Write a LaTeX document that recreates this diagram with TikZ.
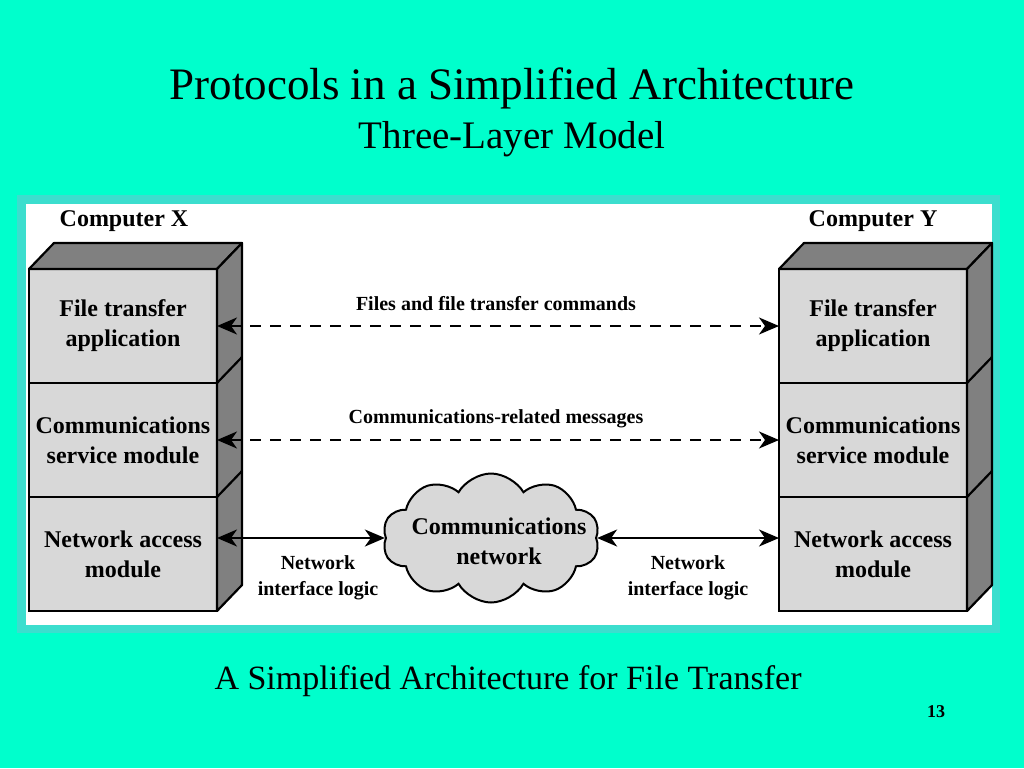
\documentclass[tikz,border=0pt]{standalone}
\usepackage{fontspec}
\setmainfont{Liberation Serif}
\usetikzlibrary{arrows.meta,shapes.symbols}
\definecolor{bgC}{RGB}{0,255,204}
\definecolor{frameC}{RGB}{60,222,206}
\definecolor{faceC}{RGB}{216,216,216}
\definecolor{darkC}{RGB}{128,128,128}
\begin{document}
\begin{tikzpicture}[x=1pt,y=-1pt,
  layer/.style={draw=black, line width=2.2pt, fill=faceC, minimum width=188pt,
    minimum height=114pt, inner sep=0pt, outer sep=0pt, align=center,
    font=\fontsize{24}{30}\selectfont\bfseries},
  face/.style={draw=black, line width=2.2pt, fill=darkC, line join=round},
  edge/.style={draw=black, line width=2.2pt},
  big/.style={font=\fontsize{24}{30}\selectfont\bfseries, align=center, inner sep=0pt},
  small/.style={font=\fontsize{20}{26}\selectfont\bfseries, align=center, inner sep=0pt},
  link/.style={line width=2pt, {Stealth[length=20pt,width=17pt,inset=6pt]}-{Stealth[length=20pt,width=17pt,inset=6pt]}},
  dlink/.style={link, dash pattern=on 11pt off 9pt}
]
\useasboundingbox (0,0) rectangle (1024,768);
\fill[bgC] (0,0) rectangle (1024,768);
% frame
\fill[frameC] (17,195) rectangle (1000,633);
\fill[white] (26,204) rectangle (992,625);

% titles
\node[anchor=base, inner sep=0pt, font=\fontsize{45}{54}\selectfont] (title) at (512,99)
  {Protocols in a Simplified Architecture};
\node[anchor=base, inner sep=0pt, font=\fontsize{39}{46}\selectfont] (subtitle) at (512,148)
  {Three-Layer Model};
\node[anchor=base, inner sep=0pt, font=\fontsize{34}{40}\selectfont] (caption) at (508,689)
  {A Simplified Architecture for File Transfer};
\node[anchor=base, inner sep=0pt, font=\fontsize{18}{22}\selectfont\bfseries] (pagenum) at (936,717) {13};

% computer labels
\node[big] (cx) at (124,221) {Computer X};
\node[big] (cy) at (873,221) {Computer Y};

% left stack
\node[layer] (L1) at (123,326) {File transfer\\application};
\node[layer] (L2) at (123,440) {Communications\\service module};
\node[layer] (L3) at (123,554) {Network access\\module};
\filldraw[face] (L1.north west) -- ([shift={(25,-26)}]L1.north west) -- ([shift={(25,-26)}]L1.north east) -- (L1.north east) -- cycle;
\filldraw[face] (L1.north east) -- ([shift={(25,-26)}]L1.north east) -- ([shift={(25,-26)}]L3.south east) -- (L3.south east) -- cycle;
\draw[edge] (L2.north east) -- ([shift={(25,-26)}]L2.north east);
\draw[edge] (L3.north east) -- ([shift={(25,-26)}]L3.north east);

% right stack
\node[layer] (R1) at (873,326) {File transfer\\application};
\node[layer] (R2) at (873,440) {Communications\\service module};
\node[layer] (R3) at (873,554) {Network access\\module};
\filldraw[face] (R1.north west) -- ([shift={(25,-26)}]R1.north west) -- ([shift={(25,-26)}]R1.north east) -- (R1.north east) -- cycle;
\filldraw[face] (R1.north east) -- ([shift={(25,-26)}]R1.north east) -- ([shift={(25,-26)}]R3.south east) -- (R3.south east) -- cycle;
\draw[edge] (R2.north east) -- ([shift={(25,-26)}]R2.north east);
\draw[edge] (R3.north east) -- ([shift={(25,-26)}]R3.north east);

% cloud
\node[cloud, cloud puffs=10, cloud puff arc=120, aspect=1.7, draw=black, line width=2pt,
  fill=faceC, minimum width=217pt, minimum height=129pt, inner sep=0pt] (cloud) at (491,538) {};
\node[big] (cloudtxt) at (499,541) {Communications\\network};

% connectors
\draw[dlink] (L1.east) -- (R1.west);
\draw[dlink] (L2.east) -- (R2.west);
\draw[link] (L3.east |- cloud.west) -- (cloud.west);
\draw[link] (cloud.east) -- (R3.west |- cloud.east);

% connector labels
\node[small] (lab1) at (496,304) {Files and file transfer commands};
\node[small] (lab2) at (496,419) {Communications-related messages};
\node[small] (lab3) at (318,578) {Network\\interface logic};
\node[small] (lab4) at (688,578) {Network\\interface logic};
\end{tikzpicture}
\end{document}
